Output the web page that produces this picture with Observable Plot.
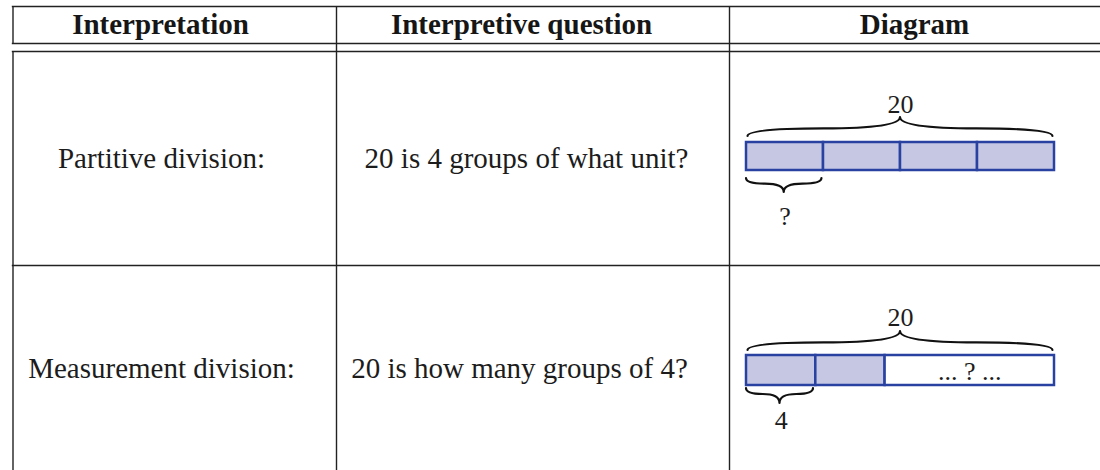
<!DOCTYPE html>
<html><head><meta charset="utf-8">
<script src="https://cdn.jsdelivr.net/npm/d3@7"></script>
<script src="https://cdn.jsdelivr.net/npm/@observablehq/plot@0.6"></script>
<style>
html,body{margin:0;padding:0;background:#fff;overflow:hidden}
#wrap{position:relative;width:1100px;height:470px;overflow:hidden;background:#fff}
#wrap svg{position:absolute;top:0}
</style></head><body><div id="wrap"></div>
<script>
// ---------- content ----------
const headers = ["Interpretation", "Interpretive question", "Diagram"];
const interpretations = ["Partitive division:", "Measurement division:"];
const questions = ["20 is 4 groups of what unit?", "20 is how many groups of 4?"];
const totals = [20, 20];
// partitive: 4 equal groups of the unknown unit (20 / 4)
const partitiveSpans = [5, 5, 5, 5];
const partitiveFilled = [true, true, true, true];
const partitiveUnitLabel = "?";
const measurementSpans = [4.5, 4.5, 11];
const measurementFilled = [true, true, false];
const measurementUnitLabel = "4";
const remainderLabel = "... ? ...";

// ---------- layout (pixels) ----------
const W = 1100, H = 470;
const font = "'Liberation Serif','Times New Roman',Times,serif";
const leftEdge = 12.5, rightEdge = 1112;
const hRules = [6, 43, 51, 265];
const vSegments = [
  {x: leftEdge, y1: 6, y2: 43},
  {x: leftEdge, y1: 51, y2: H + 5},
  {x: 336, y1: 6, y2: H + 5},
  {x: 729, y1: 6, y2: H + 5}
];
const headerX = [160, 521, 914], headerY = 24;
const rowY = [158, 368];
const interpX = [161, 161];
const questionX = [526, 519];
const textSize = 29;

const diagLeft = 729, diagW = W - diagLeft;
const xDomain = [0, 20], xRange = [746 - diagLeft, 1054 - diagLeft];
const barTop = [142, 355], barBottom = [170, 385];
const lavender = "#c5c7e3", blue = "#2941a0";

// ---------- table ----------
const table = Plot.plot({
  width: W, height: H, margin: 0,
  x: {type: "identity", axis: null},
  y: {type: "identity", axis: null},
  style: {fontFamily: font, background: "white", overflow: "visible"},
  marks: [
    Plot.ruleY(hRules, {y: d => d, x1: leftEdge - 0.7, x2: rightEdge, stroke: "#222", strokeWidth: 1.4}),
    Plot.ruleX(vSegments, {x: "x", y1: "y1", y2: "y2", stroke: "#222", strokeWidth: 1.4}),
    Plot.text(headers, {x: (d, i) => headerX[i], y: headerY, text: d => d, fontWeight: "bold", fontSize: textSize, fontFamily: font, fill: "#161616"}),
    Plot.text(interpretations, {x: (d, i) => interpX[i], y: (d, i) => rowY[i], text: d => d, fontSize: textSize, fontFamily: font, fill: "#1c1c1c"}),
    Plot.text(questions, {x: (d, i) => questionX[i], y: (d, i) => rowY[i], text: d => d, fontSize: textSize, fontFamily: font, fill: "#1c1c1c"})
  ]
});
table.style.left = "0px";

// ---------- diagrams ----------
function cellsFor(spans, filled, row) {
  let acc = 0;
  return spans.map((s, i) => {
    const x1 = acc; acc += s;
    return {row, x1, x2: acc, filled: filled[i]};
  });
}
const cells = [
  ...cellsFor(partitiveSpans, partitiveFilled, 0),
  ...cellsFor(measurementSpans, measurementFilled, 1)
];
const braces = [
  {from: 0.1, to: 19.9, tip: 136, peak: 117},
  {from: 0.0, to: partitiveSpans[0] - 0.1, tip: 178, peak: 192},
  {from: 0.1, to: 19.9, tip: 350, peak: 331},
  {from: 0.0, to: measurementSpans[0] - 0.15, tip: 388, peak: 403}
];
const labels = [
  {x: totals[0] / 2, y: 104, text: String(totals[0])},
  {x: partitiveSpans[0] / 2, y: 216, text: partitiveUnitLabel},
  {x: totals[1] / 2, y: 317, text: String(totals[1])},
  {x: measurementSpans[0] / 2, y: 420, text: measurementUnitLabel},
  {x: measurementSpans[0] + measurementSpans[1] + measurementSpans[2] / 2, y: 371, text: remainderLabel}
];

function braceMark(list) {
  return (index, scales) => {
    const sx = (scales && typeof scales.x === "function") ? scales.x : d3.scaleLinear(xDomain, xRange);
    const g = d3.create("svg:g").attr("fill", "none").attr("stroke", "#111").attr("stroke-width", 2.2).attr("stroke-linecap", "round");
    for (const b of list) {
      const xa = sx(b.from), xb = sx(b.to), xm = (xa + xb) / 2, L = xb - xa;
      const h = b.peak - b.tip, yt = b.tip, ym = yt + 0.4 * h;
      const d = `M${xa},${yt} Q${xa},${ym} ${xa + L / 4},${ym} T${xm},${b.peak}` +
                ` M${xb},${yt} Q${xb},${ym} ${xb - L / 4},${ym} T${xm},${b.peak}`;
      g.append("path").attr("d", d);
    }
    return g.node();
  };
}

const diag = Plot.plot({
  width: diagW, height: H, margin: 0,
  x: {domain: xDomain, range: xRange, axis: null},
  y: {type: "identity", axis: null},
  style: {fontFamily: font, background: "transparent", overflow: "visible"},
  marks: [
    Plot.rect(cells, {x1: "x1", x2: "x2", y1: d => barTop[d.row], y2: d => barBottom[d.row],
      fill: d => d.filled ? lavender : "white", stroke: blue, strokeWidth: 2.5}),
    braceMark(braces),
    Plot.text(labels, {x: "x", y: "y", text: "text", fontSize: 26, fontFamily: font, fill: "#1c1c1c"})
  ]
});
diag.style.left = diagLeft + "px";

const wrap = document.getElementById("wrap");
wrap.appendChild(table);
wrap.appendChild(diag);
</script></body></html>
